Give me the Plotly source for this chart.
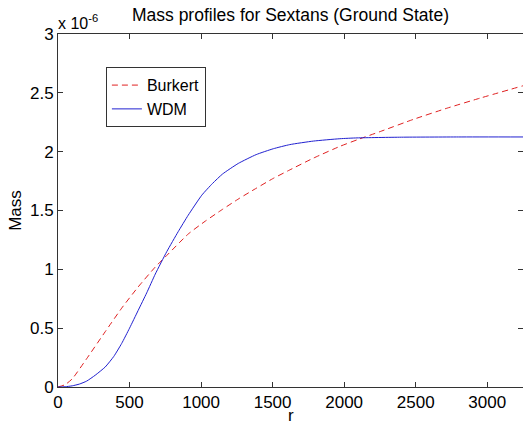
import plotly.graph_objects as go

# radius (pc) and enclosed mass in units of 1e-6
r_burkert = [0, 50, 100, 200, 330, 445, 560, 680, 770, 910, 1030, 1150, 1270, 1380,
             1500, 1620, 1785, 1970, 2100, 2250, 2485, 2720, 2950, 3250]
m_burkert = [0, 0.02, 0.07, 0.24, 0.47, 0.67, 0.85, 1.02, 1.13, 1.30, 1.41, 1.51, 1.605, 1.685,
             1.77, 1.845, 1.945, 2.045, 2.105, 2.17, 2.275, 2.37, 2.455, 2.56]

r_wdm = [0, 50, 100, 150, 200, 260, 330, 390, 445, 500, 560, 620, 680, 760, 840, 910, 1005,
         1080, 1150, 1260, 1385, 1505, 1620, 1785, 1970, 2090, 2400, 2800, 3250]
m_wdm = [0, 0.002, 0.01, 0.025, 0.05, 0.10, 0.17, 0.26, 0.37, 0.50, 0.65, 0.80, 0.96, 1.15,
         1.32, 1.46, 1.63, 1.73, 1.81, 1.90, 1.975, 2.025, 2.06, 2.09, 2.11, 2.117, 2.123,
         2.125, 2.125]

x_ticks = [0, 500, 1000, 1500, 2000, 2500, 3000]
y_ticks = [0, 0.5, 1, 1.5, 2, 2.5, 3]

FUENTE = "Liberation Sans, Arial, Helvetica, sans-serif"

fig = go.Figure()
fig.add_trace(go.Scatter(x=r_burkert, y=m_burkert, name="Burkert", mode="lines",
                         line=dict(color="#e02020", width=1, dash="6px,4px", shape="spline",
                                   smoothing=0.5)))
fig.add_trace(go.Scatter(x=r_wdm, y=m_wdm, name="WDM", mode="lines",
                         line=dict(color="#2020d0", width=1, shape="spline", smoothing=0.5)))

eje = dict(showline=True, linecolor="#333333", linewidth=1, mirror="ticks", ticks="inside",
           ticklen=5, tickcolor="#333333", showgrid=False, zeroline=False, automargin=False,
           tickfont=dict(size=17, color="black"))

fig.update_layout(
    width=523, height=427,
    margin=dict(l=58, r=0, t=34, b=40),
    paper_bgcolor="white", plot_bgcolor="white",
    font=dict(family=FUENTE, color="black"),
    title=dict(text="Mass profiles for Sextans (Ground State)", x=0.5, xref="paper",
               xanchor="center", y=1 - 15 / 427, yanchor="middle", font=dict(size=17.5)),
    xaxis=dict(range=[0, 3250], tickvals=x_ticks, **eje),
    yaxis=dict(range=[0, 3], tickvals=y_ticks,
               title=dict(text="Mass", font=dict(size=17), standoff=4), **eje),
    legend=dict(x=0.103, y=0.906, xanchor="left", yanchor="top", bgcolor="white",
                bordercolor="#333333", borderwidth=1, font=dict(size=16),
                itemwidth=30, tracegroupgap=0),
    annotations=[
        dict(text="x 10<sup>-6</sup>", xref="paper", yref="paper", x=0, y=1,
             xanchor="left", yanchor="bottom", showarrow=False, xshift=-2,
             font=dict(size=16)),
        dict(text="r", xref="paper", yref="paper", x=0.5, y=0, yshift=-28,
             xanchor="center", yanchor="middle", showarrow=False, font=dict(size=17)),
    ],
)

fig.write_html("out.html", config={"displayModeBar": False},
               post_script="document.body.style.margin='0';")
